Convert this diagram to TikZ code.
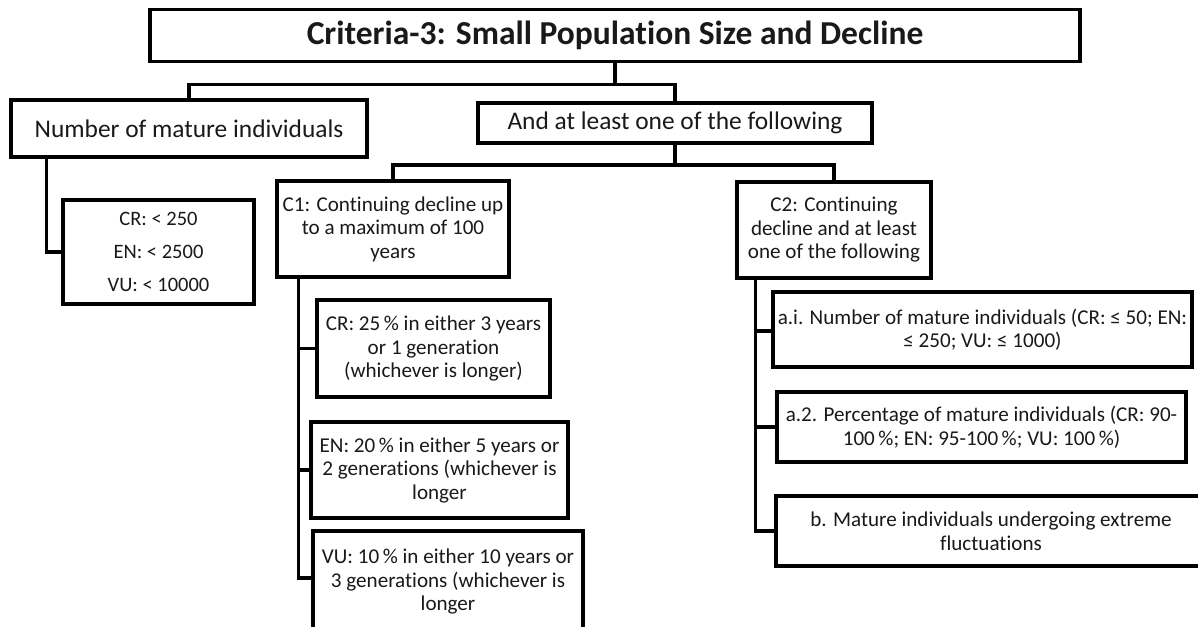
\documentclass[tikz,border=0pt]{standalone}
\usepackage{fontspec}
\setmainfont{Carlito}[Ligatures={NoCommon}]
\usetikzlibrary{calc}
\begin{document}
\begin{tikzpicture}[x=1pt,y=-1pt,
  box/.style={draw=black, line width=3.5pt, inner sep=0pt, align=center, text=black!90,
    font=\fontsize{21.1}{23.5}\selectfont},
  bigbox/.style={box, font=\fontsize{25.4}{29}\selectfont},
  link/.style={draw=black, line width=3.5pt}]
\clip (0,0) rectangle (1198,626);
\fill[white] (0,0) rectangle (1198,626);

% top level
\node[box, minimum width=930pt, minimum height=52pt, font=\fontsize{33.5}{38}\selectfont\bfseries] (title) at (615,35.5) {Criteria-3: Small Population Size and Decline};
\node[bigbox, minimum width=356pt, minimum height=57pt] (nmi) at (189,128.5) {Number of mature individuals};
\node[bigbox, minimum width=394pt, minimum height=40pt] (al) at (675,123) {And at least one of the following};

% left branch
\node[box, minimum width=191pt, minimum height=104pt, font=\fontsize{20.5}{33}\selectfont] (cev) at (158.5,252) {CR: < 250\\EN: < 2500\\VU: < 10000};

% C1 branch
\node[box, minimum width=232pt, minimum height=96pt] (c1) at (393,229) {C1: Continuing decline up\\to a maximum of 100\\years};
\node[box, minimum width=233pt, minimum height=97pt] (cr) at (433.5,348.5) {CR: 25\,\% in either 3 years\\or 1 generation\\(whichever is longer)};
\node[box, minimum width=257pt, minimum height=96pt] (en) at (439.5,470) {EN: 20\,\% in either 5 years or\\2 generations (whichever is\\longer};
\node[box, minimum width=270pt, minimum height=101pt] (vu) at (448,581.5) {VU: 10\,\% in either 10 years or\\3 generations (whichever is\\longer};

% C2 branch
\node[box, minimum width=194pt, minimum height=96pt] (c2) at (834,230) {C2: Continuing\\decline and at least\\one of the following};
\node[box, minimum width=419pt, minimum height=75pt] (ai) at (982.5,329.5) {a.i. Number of mature individuals (CR: ≤ 50; EN:\\≤ 250; VU: ≤ 1000)};
\node[box, minimum width=409pt, minimum height=70pt] (a2) at (981.5,427) {a.2. Percentage of mature individuals (CR: 90-\\100\,\%; EN: 95-100\,\%; VU: 100\,\%)};
\node[box, minimum width=430pt, minimum height=70pt] (b) at (991,531) {b. Mature individuals undergoing extreme\\fluctuations};

% connectors
\coordinate (tj) at ($(title.south)+(0,21)$);
\draw[link] (title.south) -- (tj) -| (nmi.north);
\draw[link] (tj) -| (al.north);
\coordinate (aj) at ($(al.south)+(0,20)$);
\draw[link] (al.south) -- (aj) -| (c1.north);
\draw[link] (aj) -| (c2.north);
\draw[link] ($(nmi.south west)+(37,0)$) |- (cev.west);
\draw[link] ($(c1.south west)+(23,0)$) |- (cr.west);
\draw[link] ($(c1.south west)+(23,0)$) |- (en.west);
\draw[link] ($(c1.south west)+(23,0)$) |- ($(vu.west)+(0,-3.5)$);
\draw[link] ($(c2.south west)+(20,0)$) |- ($(ai.west)+(0,1.5)$);
\draw[link] ($(c2.south west)+(20,0)$) |- (a2.west);
\draw[link] ($(c2.south west)+(20,0)$) |- (b.west);
\end{tikzpicture}
\end{document}
